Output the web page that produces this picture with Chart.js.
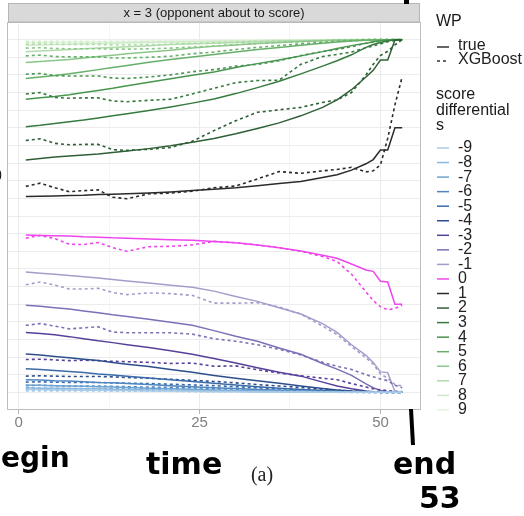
<!DOCTYPE html>
<html>
<head>
<meta charset="utf-8">
<script src="https://cdn.jsdelivr.net/npm/chart.js@4"></script>
<style>
  html, body { margin: 0; padding: 0; background: #fff; }
  canvas { display: block; }
</style>
</head>
<body>
<canvas id="wpChart" width="524" height="516"></canvas>
<script>
// time steps (x axis)
const times = [1, 3, 5, 7, 9, 11, 13, 15, 18, 21, 24, 27, 30, 33, 36, 39, 42, 44, 46, 48, 49, 50, 51, 52, 53];
const scoreDiff = [-9, -8, -7, -6, -5, -4, -3, -2, -1, 0, 1, 2, 3, 4, 5, 6, 7, 8, 9];
const sColors = ['#a9cbe8', '#8cb8dd', '#6fa2cf', '#4f86c0', '#3a6aa8', '#2c4f8c', '#56409a', '#7c70b6', '#a29ecb',
  '#ee45ee', '#2b2b2b', '#2f5f37', '#367a40', '#47954f', '#66b068', '#8cc78a', '#b0dbaa', '#cfeac9', '#e4f3df'];
const xTicks = [0, 12.5, 25, 37.5, 50];
const xLabels = [0, 25, 50];

// true win probability, one row per score differential (same order as scoreDiff)
const trueWP = [
  [0.008,0.008,0.007,0.007,0.006,0.006,0.005,0.005,0.004,0.004,0.003,0.002,0.002,0.001,0.001,0.001,0,0,0,0,0,0,0,0,0],
  [0.013,0.012,0.012,0.011,0.01,0.01,0.009,0.008,0.007,0.006,0.005,0.004,0.003,0.002,0.002,0.001,0.001,0,0,0,0,0,0,0,0],
  [0.021,0.02,0.019,0.018,0.017,0.016,0.015,0.014,0.012,0.01,0.009,0.007,0.005,0.004,0.003,0.002,0.001,0.001,0,0,0,0,0,0,0],
  [0.036,0.035,0.033,0.032,0.03,0.028,0.027,0.025,0.022,0.019,0.016,0.013,0.011,0.008,0.006,0.004,0.002,0.001,0.001,0,0,0,0,0,0],
  [0.067,0.065,0.062,0.059,0.056,0.052,0.049,0.046,0.041,0.036,0.031,0.026,0.021,0.016,0.012,0.008,0.005,0.003,0.002,0.001,0,0,0,0,0],
  [0.109,0.106,0.102,0.098,0.094,0.09,0.085,0.08,0.073,0.065,0.057,0.048,0.04,0.033,0.026,0.018,0.011,0.007,0.004,0.002,0.001,0,0,0,0],
  [0.17,0.167,0.163,0.158,0.152,0.146,0.141,0.135,0.127,0.118,0.108,0.096,0.083,0.07,0.057,0.046,0.029,0.018,0.01,0.004,0.002,0.001,0,0,0],
  [0.247,0.244,0.24,0.236,0.231,0.226,0.22,0.215,0.207,0.199,0.19,0.175,0.159,0.145,0.126,0.108,0.082,0.066,0.048,0.024,0.013,0.005,0.002,0,0],
  [0.341,0.338,0.335,0.331,0.328,0.324,0.32,0.316,0.31,0.304,0.298,0.287,0.272,0.258,0.24,0.222,0.195,0.17,0.135,0.105,0.085,0.058,0.056,0.002,0],
  [0.446,0.445,0.444,0.443,0.441,0.44,0.438,0.437,0.435,0.433,0.431,0.428,0.424,0.418,0.41,0.401,0.389,0.38,0.364,0.347,0.343,0.315,0.313,0.25,0.25],
  [0.555,0.556,0.557,0.558,0.559,0.561,0.562,0.563,0.565,0.568,0.572,0.576,0.58,0.586,0.592,0.598,0.609,0.617,0.63,0.648,0.66,0.687,0.687,0.75,0.75],
  [0.659,0.663,0.667,0.67,0.673,0.676,0.68,0.684,0.691,0.699,0.709,0.72,0.733,0.748,0.764,0.784,0.808,0.829,0.858,0.894,0.913,0.942,0.942,0.999,1],
  [0.753,0.757,0.762,0.767,0.772,0.778,0.784,0.79,0.799,0.809,0.82,0.832,0.847,0.864,0.882,0.903,0.925,0.94,0.957,0.978,0.986,0.992,0.996,1,1],
  [0.831,0.835,0.839,0.844,0.85,0.856,0.862,0.869,0.879,0.889,0.899,0.908,0.921,0.932,0.942,0.954,0.966,0.975,0.983,0.99,0.994,0.997,0.999,1,1],
  [0.89,0.894,0.898,0.903,0.909,0.915,0.921,0.927,0.936,0.944,0.951,0.958,0.965,0.972,0.978,0.984,0.99,0.993,0.996,0.998,0.999,1,1,1,1],
  [0.935,0.938,0.941,0.944,0.948,0.952,0.956,0.96,0.965,0.97,0.976,0.981,0.985,0.989,0.992,0.995,0.997,0.998,0.999,1,1,1,1,1,1],
  [0.966,0.968,0.97,0.972,0.974,0.976,0.978,0.98,0.983,0.986,0.988,0.99,0.992,0.994,0.996,0.997,0.998,0.999,1,1,1,1,1,1,1],
  [0.984,0.985,0.986,0.987,0.988,0.989,0.99,0.991,0.992,0.993,0.994,0.995,0.996,0.997,0.998,0.999,0.999,1,1,1,1,1,1,1,1],
  [0.992,0.992,0.993,0.993,0.994,0.994,0.995,0.995,0.996,0.996,0.997,0.997,0.998,0.998,0.999,0.999,1,1,1,1,1,1,1,1,1]
];

// XGBoost estimate, same layout
const xgbWP = [
  [0.004,0.004,0.004,0.004,0.004,0.004,0.003,0.003,0.003,0.003,0.002,0.002,0.002,0.001,0.001,0.001,0.001,0,0,0,0,0,0,0,0],
  [0.007,0.007,0.007,0.007,0.006,0.006,0.006,0.006,0.005,0.005,0.004,0.004,0.003,0.003,0.002,0.002,0.001,0.001,0,0,0,0,0,0,0],
  [0.011,0.012,0.011,0.011,0.011,0.011,0.01,0.01,0.009,0.009,0.008,0.007,0.006,0.005,0.004,0.003,0.002,0.001,0.001,0,0,0,0,0,0],
  [0.019,0.02,0.019,0.018,0.018,0.018,0.017,0.016,0.015,0.014,0.013,0.011,0.009,0.008,0.006,0.004,0.003,0.002,0.001,0.001,0,0,0,0,0],
  [0.029,0.03,0.029,0.028,0.028,0.028,0.027,0.026,0.025,0.023,0.021,0.019,0.016,0.013,0.01,0.008,0.005,0.003,0.002,0.001,0.001,0,0,0,0],
  [0.046,0.047,0.046,0.045,0.045,0.045,0.044,0.042,0.04,0.037,0.034,0.031,0.027,0.022,0.018,0.014,0.009,0.006,0.004,0.002,0.001,0,0,0,0],
  [0.093,0.094,0.092,0.09,0.091,0.09,0.088,0.087,0.085,0.082,0.083,0.074,0.075,0.064,0.055,0.047,0.04,0.036,0.025,0.015,0.01,0.007,0.005,0.003,0.002],
  [0.19,0.195,0.188,0.18,0.183,0.186,0.171,0.169,0.169,0.169,0.165,0.152,0.145,0.135,0.122,0.106,0.085,0.074,0.065,0.05,0.044,0.038,0.033,0.02,0.013],
  [0.305,0.313,0.304,0.293,0.293,0.295,0.283,0.277,0.282,0.28,0.275,0.253,0.253,0.254,0.242,0.222,0.188,0.164,0.13,0.098,0.08,0.052,0.04,0.022,0.018],
  [0.437,0.445,0.436,0.42,0.419,0.425,0.41,0.4,0.413,0.414,0.418,0.428,0.424,0.418,0.41,0.4,0.385,0.371,0.335,0.285,0.26,0.243,0.234,0.238,0.247],
  [0.584,0.593,0.58,0.569,0.572,0.574,0.553,0.549,0.563,0.565,0.57,0.58,0.585,0.605,0.626,0.621,0.628,0.632,0.638,0.625,0.628,0.645,0.72,0.815,0.895],
  [0.714,0.719,0.706,0.702,0.703,0.703,0.688,0.686,0.689,0.694,0.712,0.742,0.77,0.794,0.801,0.808,0.822,0.829,0.85,0.9,0.93,0.955,0.967,0.985,1],
  [0.846,0.85,0.836,0.834,0.835,0.835,0.826,0.824,0.828,0.831,0.846,0.862,0.878,0.884,0.885,0.93,0.952,0.958,0.965,0.977,0.982,0.988,0.994,0.998,1],
  [0.902,0.904,0.898,0.897,0.897,0.897,0.891,0.89,0.894,0.9,0.909,0.915,0.925,0.93,0.94,0.955,0.966,0.972,0.98,0.99,0.993,0.996,0.998,1,1],
  [0.954,0.956,0.952,0.951,0.951,0.951,0.948,0.948,0.95,0.953,0.96,0.965,0.972,0.978,0.983,0.988,0.992,0.995,0.997,0.999,1,1,1,1,1],
  [0.976,0.977,0.975,0.974,0.974,0.974,0.973,0.973,0.974,0.976,0.979,0.982,0.986,0.989,0.992,0.994,0.996,0.998,0.999,1,1,1,1,1,1],
  [0.987,0.988,0.987,0.986,0.986,0.986,0.985,0.985,0.986,0.987,0.989,0.991,0.993,0.995,0.996,0.997,0.998,0.999,1,1,1,1,1,1,1],
  [0.993,0.993,0.993,0.992,0.992,0.992,0.992,0.992,0.993,0.993,0.994,0.995,0.996,0.997,0.998,0.998,0.999,1,1,1,1,1,1,1,1],
  [0.996,0.996,0.996,0.996,0.996,0.996,0.996,0.996,0.996,0.997,0.997,0.998,0.998,0.998,0.999,0.999,1,1,1,1,1,1,1,1,1]
];

const FONT = '"Liberation Sans", Arial, sans-serif';

const toPoints = vals => times.map((t, i) => ({ x: t, y: vals[i] }));

const datasets = [];
scoreDiff.forEach((s, k) => {
  datasets.push({
    label: 'true ' + s, data: toPoints(trueWP[k]),
    borderColor: sColors[k], borderWidth: 1.5, pointRadius: 0, tension: 0
  });
  datasets.push({
    label: 'XGBoost ' + s, data: toPoints(xgbWP[k]),
    borderColor: sColors[k], borderWidth: 1.6, borderDash: [3, 3], pointRadius: 0, tension: 0
  });
});

const yGrid = [];
for (let i = 0; i <= 20; i++) yGrid.push(i / 20);

// strip header, panel border, legend, hand notes
const decor = {
  id: 'decor',
  beforeDatasetsDraw(chart) {
    const { ctx, chartArea: a } = chart;
    ctx.save();
    ctx.strokeStyle = '#bdbdbd';
    ctx.lineWidth = 1;
    ctx.strokeRect(a.left + 0.5, a.top + 0.5, a.right - a.left - 1, a.bottom - a.top - 1);
    ctx.restore();
  },
  afterDraw(chart) {
    const { ctx, chartArea: a } = chart;
    ctx.save();
    // facet strip
    ctx.fillStyle = '#d9d9d9';
    ctx.fillRect(a.left + 1, 3, a.right - a.left - 2, a.top - 3);
    ctx.strokeStyle = '#b5b5b5';
    ctx.strokeRect(a.left + 1.5, 3.5, a.right - a.left - 3, a.top - 3.5);
    ctx.fillStyle = '#1a1a1a';
    ctx.font = '13px ' + FONT;
    ctx.textAlign = 'center';
    ctx.textBaseline = 'middle';
    ctx.fillText('x = 3 (opponent about to score)', (a.left + a.right) / 2, 13);

    // legend
    const lx = 437, tx = 458;
    ctx.textAlign = 'left';
    ctx.fillStyle = '#1a1a1a';
    ctx.font = '16px ' + FONT;
    ctx.fillText('WP', 436, 22);
    ctx.strokeStyle = '#333';
    ctx.lineWidth = 1.5;
    ctx.beginPath(); ctx.moveTo(lx, 47); ctx.lineTo(lx + 12, 47); ctx.stroke();
    ctx.setLineDash([3, 3]);
    ctx.beginPath(); ctx.moveTo(lx, 61); ctx.lineTo(lx + 12, 61); ctx.stroke();
    ctx.setLineDash([]);
    ctx.fillStyle = '#222';
    ctx.fillText('true', tx, 46);
    ctx.fillText('XGBoost', tx, 60);
    ctx.fillStyle = '#1a1a1a';
    ctx.fillText('score', 436, 95);
    ctx.fillText('differential', 436, 111);
    ctx.fillText('s', 436, 126);
    scoreDiff.forEach((s, k) => {
      const y = 148 + k * 14.55;
      ctx.strokeStyle = sColors[k];
      ctx.lineWidth = 1.5;
      ctx.beginPath(); ctx.moveTo(lx, y); ctx.lineTo(lx + 12, y); ctx.stroke();
      ctx.fillStyle = '#222';
      ctx.fillText(String(s), tx, y);
    });

    // hand-written notes
    ctx.fillStyle = '#000';
    ctx.font = 'bold 28px "DejaVu Sans", sans-serif';
    ctx.textAlign = 'left';
    ctx.fillText('begin', -19, 460);
    ctx.font = 'bold 30px "DejaVu Sans", sans-serif';
    ctx.fillText('time', 146, 466);
    ctx.fillText('end', 393, 466);
    ctx.fillText('53', 419, 500);
    ctx.strokeStyle = '#000';
    ctx.lineWidth = 4;
    ctx.beginPath(); ctx.moveTo(411, 409); ctx.lineTo(413, 445); ctx.stroke();
    ctx.fillRect(404, 0, 5, 4);
    ctx.font = '12px ' + FONT;
    ctx.fillText(')', -2, 175);
    ctx.fillStyle = '#222';
    ctx.font = '20px "Liberation Serif", serif';
    ctx.textAlign = 'center';
    ctx.fillText('(a)', 262, 476);
    ctx.restore();
  }
};

new Chart(document.getElementById('wpChart').getContext('2d'), {
  type: 'line',
  data: { datasets },
  plugins: [decor],
  options: {
    responsive: false,
    animation: false,
    layout: { padding: { left: 0, top: 22, right: 103, bottom: 0 } },
    plugins: { legend: { display: false }, tooltip: { enabled: false } },
    scales: {
      x: {
        type: 'linear', min: -1.6, max: 55.6,
        afterBuildTicks: s => { s.ticks = xTicks.map(v => ({ value: v })); },
        afterFit: s => { s.height = 106; },
        ticks: {
          autoSkip: false, maxRotation: 0, padding: 0,
          color: '#808080', font: { size: 15, family: FONT },
          callback: v => xLabels.includes(v) ? String(v) : ''
        },
        grid: {
          color: c => xLabels.includes(c.tick.value) ? '#ebebeb' : '#f5f5f5',
          tickColor: c => xLabels.includes(c.tick.value) ? '#b3b3b3' : 'rgba(0,0,0,0)',
          tickLength: 4
        },
        border: { display: false }
      },
      y: {
        min: -0.05, max: 1.05,
        afterBuildTicks: s => { s.ticks = yGrid.map(v => ({ value: v })); },
        afterFit: s => { s.width = 7; },
        ticks: { display: false },
        grid: { color: '#ececec', drawTicks: false },
        border: { display: false }
      }
    }
  }
});
</script>
</body>
</html>
